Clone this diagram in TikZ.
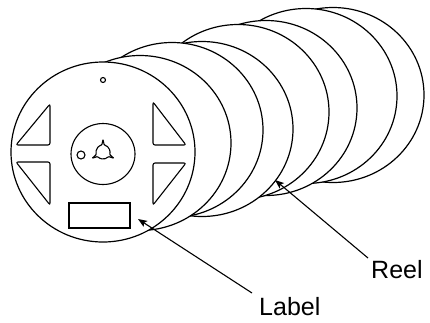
\documentclass[tikz,border=0pt]{standalone}
\usepackage{fontspec}
\setmainfont{Liberation Sans}
\usetikzlibrary{arrows.meta,calc}
\begin{document}
\begin{tikzpicture}[x=1pt,y=-1pt,
  flange/.style={draw=black,fill=white,line width=1.2pt},
  part/.style={draw=black,line width=1.1pt},
  hole/.style={draw=black,line width=1.1pt,rounded corners=2pt},
  pointer/.style={draw=black,line width=1.1pt,-{Stealth[length=9pt,width=7pt,inset=2pt]}},
  caption/.style={anchor=base west,inner sep=0pt,font=\fontsize{25}{30}\selectfont}]
\useasboundingbox (0,0) rectangle (430,322);
% flanges, back to front
\foreach \cx/\cy in {333/95, 306/96, 266/108, 238/112, 202/129, 172/130, 140/143} {
  \path[flange] (\cx,\cy) ellipse [x radius=91, y radius=87.5];
}
\path[flange] (103,152) ellipse [x radius=92, y radius=90];
% front flange details
\coordinate (gc) at (103,152);
\path[part] (103,80) circle [radius=2.5];
\path[part] (103,154) ellipse [x radius=32, y radius=30.5];
\path[part] (81,155) circle [radius=4];
\path[part,rounded corners=0.8pt]
  ($(gc)+(40:7)$) arc[start angle=40,end angle=140,radius=7]
  -- ($(gc)+(150:12.5)$) -- ($(gc)+(160:7)$)
  arc[start angle=160,end angle=260,radius=7]
  -- ($(gc)+(270:12.5)$) -- ($(gc)+(280:7)$)
  arc[start angle=280,end angle=380,radius=7]
  -- ($(gc)+(30:12.5)$) -- cycle;
\path[hole] (50,104) -- (50,145) -- (16,145) -- cycle;
\path[hole] (16,162) -- (50,162) -- (50,205) -- cycle;
\path[hole] (153,102) -- (153,145) -- (186,145) -- cycle;
\path[hole] (153,163) -- (186,163) -- (153,205) -- cycle;
\path[part] (69,203) rectangle (130,228);
% captions and pointers
\node[caption] (lbl) at (259,315) {Label};
\node[caption] (reel) at (371,278) {Reel};
\coordinate (lbltail) at (252,293);
\coordinate (lbltip) at (138,219);
\coordinate (reeltail) at (368,258);
\coordinate (reeltip) at (275,180);
\draw[pointer] (lbltail) -- (lbltip);
\draw[pointer] (reeltail) -- (reeltip);
\end{tikzpicture}
\end{document}
